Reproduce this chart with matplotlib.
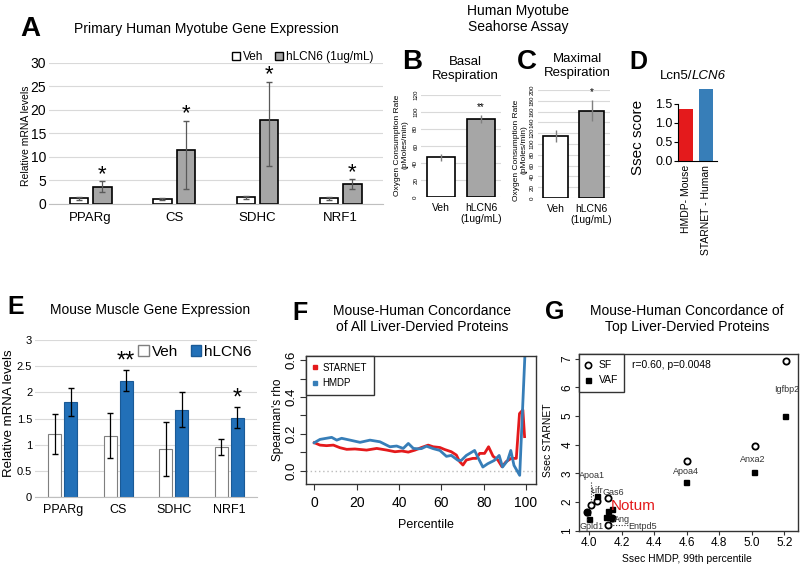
import matplotlib
matplotlib.use("Agg")
import matplotlib.pyplot as plt
import numpy as np
from matplotlib.patches import Patch
from matplotlib.lines import Line2D

W, H = 800, 569

# ---------------- data ----------------
genes = ["PPARg", "CS", "SDHC", "NRF1"]

# A: primary human myotube gene expression
a_veh = [1.1, 1.05, 1.3, 1.1]
a_veh_err = [0.3, 0.2, 0.3, 0.3]
a_lcn6 = [3.6, 11.5, 17.8, 4.2]
a_lcn6_lo = [1.1, 8.3, 9.8, 1.1]
a_lcn6_hi = [1.1, 6.2, 8.2, 1.0]
a_stars = ["*", "*", "*", "*"]

# B / C: seahorse assay
sea_groups = ["Veh", "hLCN6\n(1ug/mL)"]
basal = [46.7, 91.8]
basal_err = [4, 5]
maximal = [115, 162]
maximal_err = [11, 20]

# D: Lcn5 / LCN6 Ssec score
ssec_groups = ["HMDP- Mouse", "STARNET - Human"]
ssec_score = [1.35, 1.88]

# E: mouse muscle gene expression
e_veh = [1.20, 1.17, 0.92, 0.96]
e_veh_err = [0.38, 0.43, 0.51, 0.16]
e_lcn6 = [1.82, 2.22, 1.67, 1.52]
e_lcn6_err = [0.27, 0.20, 0.33, 0.20]
e_stars = ["", "**", "", "*"]

# F: concordance of all liver-derived proteins
starnet_pct = [0, 2.7, 5.8, 9.0, 12.1, 15.3, 19.2, 24.7, 29.5, 34.2,
               38.1, 41.3, 44.4, 47.6, 50.6, 53.8, 56.1, 59.3, 61.6, 64.7,
               67.1, 68.6, 70.2, 71.8, 74.9, 76.5, 78.1, 80.4, 82.3, 84.4,
               86.7, 88.6, 90.6, 93.0, 95.4, 96.9, 98.5, 99.3]
starnet_rho = [0.152, 0.139, 0.136, 0.139, 0.125, 0.116, 0.118, 0.112, 0.121, 0.112,
               0.103, 0.107, 0.101, 0.112, 0.126, 0.139, 0.130, 0.126, 0.115, 0.103,
               0.085, 0.050, 0.031, 0.058, 0.067, 0.067, 0.094, 0.094, 0.130, 0.079,
               0.058, 0.022, 0.049, 0.067, 0.067, 0.310, 0.330, 0.185]
hmdp_pct = [0, 2.7, 8.2, 10.6, 12.9, 16.9, 21.6, 26.3, 31.0, 35.7,
            38.9, 42.0, 44.4, 46.8, 49.1, 50.6, 53.0, 56.1, 59.3, 62.4,
            64.7, 67.9, 69.4, 71.8, 75.7, 77.2, 79.6, 81.9, 85.0, 87.3,
            88.9, 91.3, 92.8, 94.3, 97.0, 99.4]
hmdp_rho = [0.152, 0.170, 0.181, 0.166, 0.176, 0.166, 0.154, 0.166, 0.157, 0.130,
            0.134, 0.121, 0.148, 0.121, 0.119, 0.120, 0.133, 0.120, 0.110, 0.078,
            0.083, 0.056, 0.056, 0.083, 0.110, 0.074, 0.020, 0.038, 0.056, 0.083,
            0.020, 0.056, 0.110, 0.029, -0.025, 0.610]

# G: concordance of top liver-derived proteins
sf_hmdp = [5.208, 5.02, 4.60, 4.117, 4.05, 4.008, 4.113, 3.984, 4.137]
sf_starnet = [6.93, 3.95, 3.43, 2.14, 2.03, 1.88, 1.20, 1.66, 1.43]
vaf_hmdp = [5.204, 5.013, 4.595, 4.045, 4.142, 4.113, 4.103, 4.0, 3.984, 4.137]
vaf_starnet = [5.0, 3.03, 2.70, 2.21, 1.74, 1.69, 1.47, 1.40, 1.66, 1.43]
g_labels = ["Igfbp2", "Anxa2", "Apoa4", "Apoa1", "Lifr", "Gas6", "Ang", "Entpd5", "Gpld1"]
g_label_xy = [(5.216, 5.91), (5.007, 3.47), (4.595, 3.05), (4.017, 2.93), (4.045, 2.39),
              (4.148, 2.34), (4.203, 1.40), (4.33, 1.16), (4.015, 1.14)]

# ---------------- style ----------------
plt.rcParams["font.family"] = ["Liberation Sans", "DejaVu Sans"]

GRID = "#d9d9d9"
GRAY_BAR = "#a6a6a6"
BLUE_E = "#2270b8"
RED = "#e41a1c"
BLUE = "#377eb8"

fig = plt.figure(figsize=(W / 100, H / 100), dpi=100)
fig.patch.set_facecolor("white")


def add_ax(left, top, right, bottom):
    return fig.add_axes([left / W, 1 - bottom / H, (right - left) / W, (bottom - top) / H])


def put(x, y, s, **kw):
    kw.setdefault("ha", "center")
    kw.setdefault("va", "center")
    return fig.text(x / W, 1 - y / H, s, **kw)


def star(ax, x, y, s, size, dy=1):
    ax.annotate(s, (x, y), xytext=(0, dy), textcoords="offset points",
                ha="center", va="baseline", fontsize=size)


def excel_axes(ax):
    for s in ["top", "right", "left"]:
        ax.spines[s].set_visible(False)
    ax.spines["bottom"].set_color("#bfbfbf")
    ax.grid(axis="y", color=GRID, lw=0.8)
    ax.set_axisbelow(True)
    ax.tick_params(length=0)


def r_axes(ax, ticklen=4.5):
    for s in ax.spines.values():
        s.set_color("#333333")
        s.set_linewidth(1)
    ax.tick_params(direction="out", length=ticklen, width=0.8, color="#333333")


def vertical_yticks(ax):
    ax.tick_params(axis="y", labelrotation=90)
    for lab in ax.get_yticklabels():
        lab.set_va("center")


# ---------------- A ----------------
ax = add_ax(49, 63, 382.5, 203.5)
x = np.arange(len(genes))
ax.bar(x - 0.14, a_veh, 0.22, color="white", edgecolor="black", lw=1.2,
       yerr=a_veh_err, error_kw=dict(ecolor="#595959", elinewidth=0.9, capsize=2))
ax.bar(x + 0.14, a_lcn6, 0.22, color=GRAY_BAR, edgecolor="black", lw=1.2,
       yerr=[a_lcn6_lo, a_lcn6_hi], error_kw=dict(ecolor="#595959", elinewidth=0.9, capsize=2))
for i, s in enumerate(a_stars):
    star(ax, x[i] + 0.14, a_lcn6[i] + a_lcn6_hi[i], s, 16, 1)
ax.set_xlim(-0.5, 3.5)
ax.set_ylim(0, 30)
ax.set_yticks(range(0, 31, 5))
ax.set_xticks(x)
ax.set_xticklabels(genes)
excel_axes(ax)
ax.tick_params(axis="x", pad=6, labelsize=9.5)
ax.tick_params(axis="y", pad=2, labelsize=10)
ax.legend(handles=[Patch(facecolor="white", edgecolor="black", label="Veh"),
                   Patch(facecolor=GRAY_BAR, edgecolor="black", label="hLCN6 (1ug/mL)")],
          loc="center right", bbox_to_anchor=(0.972, 1.043), ncol=2, frameon=False,
          fontsize=8.5, handlelength=0.7, handleheight=0.7, handletextpad=0.2,
          columnspacing=1.0, borderpad=0, borderaxespad=0)
put(30, 29, "A", fontsize=20, fontweight="bold")
put(206, 29, "Primary Human Myotube Gene Expression", fontsize=10)
put(26, 136, "Relative mRNA levels", rotation=90, fontsize=7.5)

# ---------------- B / C ----------------
put(518, 19, "Human Myotube\nSeahorse Assay", fontsize=10, linespacing=1.15)


def seahorse(ax, vals, errs, ymax, mark):
    xs = np.arange(len(vals))
    ax.bar(xs, vals, 0.7, color=["white", GRAY_BAR], edgecolor="black", lw=1.2)
    ax.errorbar(xs, vals, yerr=errs, fmt="none", ecolor="#7f7f7f", elinewidth=1, capsize=0)
    star(ax, 1, vals[1] + errs[1], mark, 7, 3)
    ax.set_xlim(-0.5, 1.5)
    ax.set_ylim(0, ymax)
    ax.set_yticks(np.arange(0, ymax + 1, 20))
    ax.set_xticks(xs)
    ax.set_xticklabels(sea_groups)
    excel_axes(ax)
    ax.spines["bottom"].set_visible(False)
    ax.tick_params(axis="x", pad=4, labelsize=7.5)
    ax.tick_params(axis="y", pad=2, labelsize=4.5)
    vertical_yticks(ax)


ax = add_ax(421, 95, 501, 197)
seahorse(ax, basal, basal_err, 120, "**")
put(412, 62, "B", fontsize=20, fontweight="bold")
put(465, 69, "Basal\nRespiration", fontsize=9.5, linespacing=1.15)
put(401, 145, "Oxygen Consumption Rate\n(pMoles/min)", rotation=90, fontsize=6,
    linespacing=1.05)

ax = add_ax(537.5, 90, 609.5, 198)
seahorse(ax, maximal, maximal_err, 200, "*")
put(527, 62, "C", fontsize=20, fontweight="bold")
put(577, 66, "Maximal\nRespiration", fontsize=9.5, linespacing=1.15)
put(520, 150, "Oxygen Consumption Rate\n(pMoles/min)", rotation=90, fontsize=6,
    linespacing=1.05)

# ---------------- D ----------------
ax = add_ax(678, 88.5, 717, 160.7)
ax.bar([0, 1], ssec_score, 0.7, color=[RED, BLUE])
ax.set_xlim(-0.4, 1.55)
ax.set_ylim(0, 1.9)
ax.set_yticks([0, 0.5, 1.0, 1.5])
ax.set_yticklabels(["0.0", "0.5", "1.0", "1.5"], fontsize=9)
ax.set_xticks([0, 1])
ax.set_xticklabels(ssec_groups, rotation=90, fontsize=7.5)
ax.spines["top"].set_visible(False)
ax.spines["right"].set_visible(False)
ax.spines["left"].set_bounds(0, 1.5)
ax.tick_params(axis="y", length=3, pad=1)
ax.tick_params(axis="x", length=0, pad=3)
put(638, 62, "D", fontsize=18, fontweight="bold")
put(692, 76, "Lcn5/", ha="right", fontsize=9.5)
put(692, 76, "LCN6", ha="left", fontsize=9.5, style="italic")
put(638, 137, "Ssec score", rotation=90, fontsize=11)

# ---------------- E ----------------
ax = add_ax(35, 340, 257, 497.3)
ax.bar(x - 0.14, e_veh, 0.234, color="white", edgecolor="#7f7f7f", lw=0.8,
       yerr=e_veh_err, error_kw=dict(ecolor="black", elinewidth=0.9, capsize=2))
ax.bar(x + 0.14, e_lcn6, 0.234, color=BLUE_E, edgecolor="#1a5a96", lw=0.8,
       yerr=e_lcn6_err, error_kw=dict(ecolor="black", elinewidth=0.9, capsize=2))
for i, s in enumerate(e_stars):
    if s:
        star(ax, x[i] + 0.14, e_lcn6[i] + e_lcn6_err[i], s, 17, 2)
ax.set_xlim(-0.5, 3.5)
ax.set_ylim(0, 3)
ax.set_yticks([0, 0.5, 1, 1.5, 2, 2.5, 3])
ax.set_yticklabels(["0", "0.5", "1", "1.5", "2", "2.5", "3"])
ax.set_xticks(x)
ax.set_xticklabels(genes)
excel_axes(ax)
ax.tick_params(axis="x", pad=5, labelsize=9)
ax.tick_params(axis="y", pad=2, labelsize=8)
ax.legend(handles=[Patch(facecolor="white", edgecolor="#7f7f7f", label="Veh"),
                   Patch(facecolor=BLUE_E, edgecolor="#1a5a96", label="hLCN6")],
          loc="center right", bbox_to_anchor=(0.977, 0.926), ncol=2, frameon=False,
          fontsize=11, handlelength=0.7, handleheight=0.8,
          handletextpad=0.2, columnspacing=0.8, borderpad=0, borderaxespad=0)
put(16, 307, "E", fontsize=18, fontweight="bold")
put(150, 310, "Mouse Muscle Gene Expression", fontsize=10)
put(9.5, 413, "Relative mRNA levels", rotation=90, fontsize=9.5)

# ---------------- F ----------------
ax = add_ax(306, 355.7, 536, 484)
ax.axhline(0, color="#bbbbbb", lw=1, ls=(0, (1, 2)))
ax.plot(starnet_pct, starnet_rho, color=RED, lw=2)
ax.plot(hmdp_pct, hmdp_rho, color=BLUE, lw=2)
ax.set_xlim(-3.92, 104.7)
ax.set_ylim(-0.072, 0.624)
ax.set_xticks(range(0, 101, 20))
ax.set_yticks(np.arange(0, 0.61, 0.1))
ax.set_yticklabels(["0.0", "", "0.2", "", "0.4", "", "0.6"])
r_axes(ax)
ax.tick_params(axis="x", pad=4, labelsize=10)
ax.tick_params(axis="y", pad=1.5, labelsize=9.5)
vertical_yticks(ax)
leg = ax.legend(handles=[Line2D([], [], color=RED, marker="s", ls="none", ms=3.5, label="STARNET"),
                         Line2D([], [], color=BLUE, marker="s", ls="none", ms=3.5, label="HMDP")],
                loc="upper left", borderaxespad=0, fancybox=False, edgecolor="#333333",
                framealpha=1, fontsize=7, handlelength=0.5, handletextpad=0.5,
                borderpad=0.7, labelspacing=0.6)
leg.get_frame().set_linewidth(1)
put(300, 313, "F", fontsize=18, fontweight="bold")
put(422, 319, "Mouse-Human Concordance\nof All Liver-Dervied Proteins", fontsize=10,
    linespacing=1.15)
put(426, 525, "Percentile", fontsize=9)
put(278.5, 420, "Spearman's rho", rotation=90, fontsize=8.5)

# ---------------- G ----------------
ax = add_ax(579, 354, 798.3, 531)
ax.plot(sf_hmdp, sf_starnet, ls="none", marker="o", ms=4.5, mfc="white", mec="black", mew=1.3)
ax.plot(vaf_hmdp, vaf_starnet, ls="none", marker="s", ms=3.6, color="black")
ax.set_xlim(3.937, 5.286)
ax.set_ylim(0.99, 7.16)
ax.set_xticks(np.arange(4.0, 5.21, 0.2))
ax.set_xticklabels(["4.0", "4.2", "4.4", "4.6", "4.8", "5.0", "5.2"])
ax.set_yticks(range(1, 8))
r_axes(ax, ticklen=3)
ax.tick_params(axis="x", pad=1, labelsize=8.5)
ax.tick_params(axis="y", pad=1, labelsize=8.5)
vertical_yticks(ax)
for name, (lx, ly) in zip(g_labels, g_label_xy):
    ax.text(lx, ly, name, ha="center", va="center", fontsize=6.5, color="#333333")
ax.text(4.27, 1.86, "Notum", ha="center", va="center", fontsize=11, color=RED)
# dotted leader lines
dot = dict(color="#333333", lw=0.8, ls=(0, (1, 1.5)))
ax.plot([4.009, 4.009], [2.71, 1.97], **dot)
ax.plot([4.025, 4.025], [2.45, 2.21], **dot)
ax.plot([3.986, 3.986], [1.51, 1.22], **dot)
ax.plot([4.127, 4.25], [1.19, 1.19], **dot)
ax.text(0.24, 0.94, "r=0.60, p=0.0048", transform=ax.transAxes, ha="left", va="center",
        fontsize=7.5)
leg = ax.legend(handles=[Line2D([], [], ls="none", marker="o", ms=4.5, mfc="white", mec="black",
                                mew=1.2, label="SF"),
                         Line2D([], [], ls="none", marker="s", ms=3.6, color="black", label="VAF")],
                loc="upper left", borderaxespad=0, fancybox=False, edgecolor="#333333",
                framealpha=1, fontsize=7.5, handlelength=0.6, handletextpad=0.7,
                borderpad=0.6, labelspacing=0.5)
leg.get_frame().set_linewidth(1)
put(555, 312, "G", fontsize=18, fontweight="bold")
put(687, 319, "Mouse-Human Concordance of\nTop Liver-Dervied Proteins", fontsize=10,
    linespacing=1.15)
put(687, 558.5, "Ssec HMDP, 99th percentile", fontsize=7.5)
put(548, 440, "Ssec STARNET", rotation=90, fontsize=7.5)

fig.savefig("out.png", dpi=100)
